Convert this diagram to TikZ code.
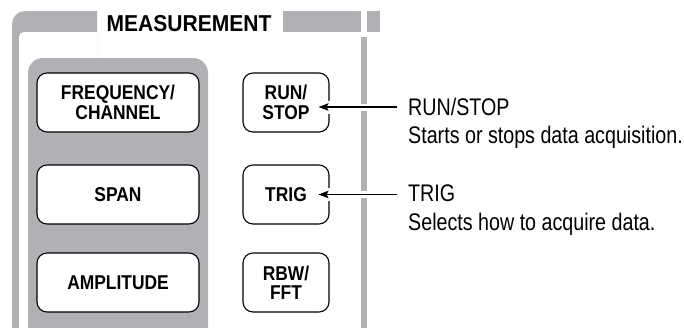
\documentclass[tikz,border=0pt]{standalone}
\usepackage{fontspec}
\usetikzlibrary{arrows.meta}
\newfontfamily\labfont[FakeStretch=0.82]{Liberation Sans}
\newfontfamily\btnfont[FakeStretch=0.87]{Liberation Sans}
\newfontfamily\ttlfont[FakeStretch=0.915]{Liberation Sans}
\definecolor{panelgray}{RGB}{176,177,181}
\tikzset{
  btn/.style={draw=black, line width=1.1pt, fill=white, rounded corners=10pt,
    align=center, inner sep=0pt,
    font=\btnfont\bfseries\fontsize{20}{19.5}\selectfont},
  leftbtn/.style={btn, minimum width=162pt, minimum height=59pt},
  rightbtn/.style={btn, minimum width=86pt, minimum height=59pt},
  lab/.style={anchor=base west, inner sep=0pt, font=\labfont\fontsize{24}{28}\selectfont},
  arr/.style={line width=1.1pt, -{Stealth[length=10pt,width=7.5pt,inset=2pt]}},
  gap/.style={fill=white}
}
\begin{document}
\begin{tikzpicture}[x=1pt,y=-1pt]
\useasboundingbox (0,0) rectangle (684,327);
\clip (0,0) rectangle (684,327);
% outer frame, left part
\begin{scope}
  \clip (0,0) rectangle (97,327);
  \fill[panelgray, rounded corners=13pt] (12,11) rectangle (160,400);
  \fill[white, rounded corners=5pt] (19,32) rectangle (160,400);
\end{scope}
% title bar right parts
\fill[panelgray] (283,11) rectangle (361,32);
\fill[panelgray] (367,11) rectangle (380,32);
% right vertical bar
\fill[panelgray] (361,37) rectangle (367,330);
% title
\node[anchor=base, inner sep=0pt, font=\ttlfont\bfseries\fontsize{23}{24}\selectfont] (title) at (189,31.7) {MEASUREMENT};
% inner panel
\fill[panelgray, rounded corners=15pt] (28,58) rectangle (208,360);
% buttons
\node[leftbtn] (freq) at (118,102.5) {FREQUENCY/\\CHANNEL};
\node[leftbtn] (span) at (118,194.5) {SPAN};
\node[leftbtn] (ampl) at (118,282.5) {AMPLITUDE};
\node[rightbtn] (runstop) at (286,102.5) {RUN/\\STOP};
\node[rightbtn] (trig) at (286,194.5) {TRIG};
\node[rightbtn] (rbw) at (286,282.5) {RBW/\\FFT};
% labels
\node[lab] (rslbl) at (408,115) {RUN/STOP};
\node[lab] (rsdesc) at (408,143.3) {Starts or stops data acquisition.};
\node[lab] (trlbl) at (408,201.7) {TRIG};
\node[lab] (trdesc) at (408,230) {Selects how to acquire data.};
% gaps
\fill[gap] (325,100.5) rectangle (334,113.5);
\fill[gap] (325,188) rectangle (334,201);
\fill[gap] (359,103.5) rectangle (369,110.5);
\fill[gap] (359,191) rectangle (369,198);
% arrows
\draw[arr] (397,107) coordinate (rsfrom) -- ([xshift=-11pt]rsfrom -| runstop.east);
\draw[arr] (397,194.5) coordinate (trfrom) -- ([xshift=-11pt]trfrom -| trig.east);
\end{tikzpicture}
\end{document}
